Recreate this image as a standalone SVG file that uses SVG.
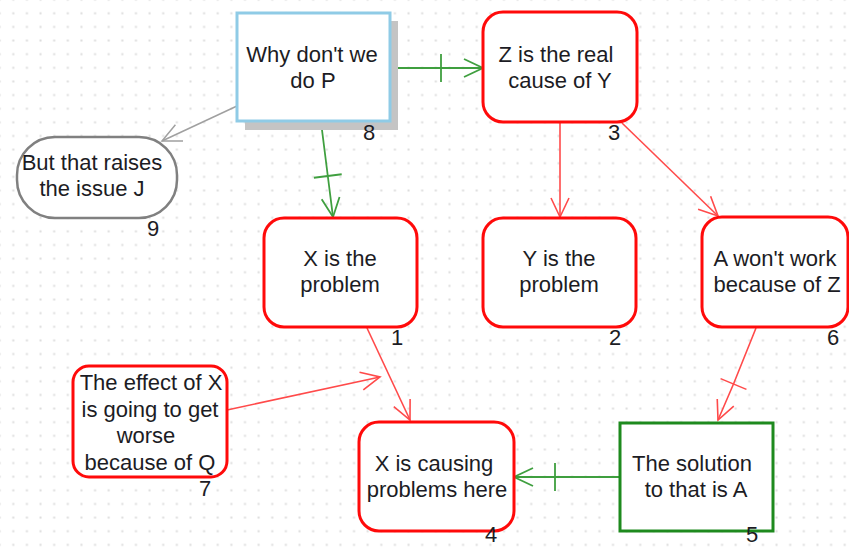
<svg xmlns="http://www.w3.org/2000/svg" width="849" height="548" viewBox="0 0 849 548">
<defs>
<pattern id="grid" patternUnits="userSpaceOnUse" x="5" y="5" width="13.63" height="13.63">
<rect x="7.3" y="7.3" width="2" height="2" fill="#dcdcdc"/>
</pattern>
<marker id="ahRed" markerUnits="userSpaceOnUse" viewBox="-22 -12 24 24" refX="0" refY="0" markerWidth="24" markerHeight="24" orient="auto" overflow="visible">
<path d="M-19,-9 L0,0 L-19,9" fill="none" stroke="#ff4a4a" stroke-width="1.6"/>
</marker>
<marker id="ahGreen" markerUnits="userSpaceOnUse" viewBox="-22 -12 24 24" refX="0" refY="0" markerWidth="24" markerHeight="24" orient="auto" overflow="visible">
<path d="M-19,-9 L0,0 L-19,9" fill="none" stroke="#3f9f3f" stroke-width="1.8"/>
</marker>
<marker id="ahGray" markerUnits="userSpaceOnUse" viewBox="-22 -12 24 24" refX="0" refY="0" markerWidth="24" markerHeight="24" orient="auto" overflow="visible">
<path d="M-19,-9 L0,0 L-19,9" fill="none" stroke="#a0a0a0" stroke-width="1.5"/>
</marker>
<marker id="barRed" markerUnits="userSpaceOnUse" viewBox="-2 -15 4 30" refX="0" refY="0" markerWidth="4" markerHeight="30" orient="auto" overflow="visible">
<path d="M0,-14 L0,14" fill="none" stroke="#ff4a4a" stroke-width="1.6"/>
</marker>
<marker id="barGreen" markerUnits="userSpaceOnUse" viewBox="-2 -15 4 30" refX="0" refY="0" markerWidth="4" markerHeight="30" orient="auto" overflow="visible">
<path d="M0,-14 L0,14" fill="none" stroke="#3f9f3f" stroke-width="1.8"/>
</marker>
</defs>
<style>
.txt{font-family:"Liberation Sans",Arial,sans-serif;font-size:22px;fill:#1c1c24;text-anchor:middle}
.num{font-family:"Liberation Sans",Arial,sans-serif;font-size:22px;fill:#1c1c24;text-anchor:middle}
.red{fill:#ffffff;stroke:#ff0a0a;stroke-width:3}
.cr{fill:none;stroke:#ff4a4a;stroke-width:1.6}
.cg{fill:none;stroke:#3f9f3f;stroke-width:1.8}
.cgray{fill:none;stroke:#a0a0a0;stroke-width:1.5}
</style>
<rect x="0" y="0" width="849" height="548" fill="#ffffff"/>
<rect x="0" y="0" width="849" height="548" fill="url(#grid)"/>

<g id="connectors">
<path class="cg" d="M390,68 L441,68 L483,68" marker-mid="url(#barGreen)" marker-end="url(#ahGreen)"/>
<path class="cg" d="M321,122 L327.8,176 L333,217" marker-mid="url(#barGreen)" marker-end="url(#ahGreen)"/>
<path class="cgray" d="M237,106 L162,141" marker-end="url(#ahGray)"/>
<path class="cr" d="M560,122 L560,217" marker-end="url(#ahRed)"/>
<path class="cr" d="M622,123 L718,216" marker-end="url(#ahRed)"/>
<path class="cr" d="M367,328 L410,420" marker-end="url(#ahRed)"/>
<path class="cr" d="M227,410 L380,377" marker-end="url(#ahRed)"/>
<path class="cr" d="M756,328 L733.5,384 L718,420" marker-mid="url(#barRed)" marker-end="url(#ahRed)"/>
<path class="cg" d="M619,477 L555,477 L514,477" marker-mid="url(#barGreen)" marker-end="url(#ahGreen)"/>
</g>

<g id="node8">
<rect x="245" y="21" width="153" height="109" fill="#c4c4c4"/>
<rect x="237" y="13" width="153" height="108" fill="#ffffff" stroke="#8fcbe6" stroke-width="3"/>
<text class="txt" x="312" y="62">Why don't we</text>
<text class="txt" x="313" y="88">do P</text>
<text class="num" x="369" y="140">8</text>
</g>

<g id="node3">
<rect class="red" x="483" y="12" width="154" height="110" rx="20"/>
<text class="txt" x="556" y="62">Z is the real</text>
<text class="txt" x="560" y="88">cause of Y</text>
<text class="num" x="614" y="140">3</text>
</g>

<g id="node9">
<rect x="17" y="137" width="160" height="81" rx="38" fill="#ffffff" stroke="#808080" stroke-width="2.5"/>
<text class="txt" x="92" y="170">But that raises</text>
<text class="txt" x="92" y="196">the issue J</text>
<text class="num" x="153" y="236">9</text>
</g>

<g id="node1">
<rect class="red" x="264" y="218" width="153" height="109" rx="20"/>
<text class="txt" x="340" y="266">X is the</text>
<text class="txt" x="340" y="292">problem</text>
<text class="num" x="397" y="345">1</text>
</g>

<g id="node2">
<rect class="red" x="483" y="218" width="153" height="109" rx="20"/>
<text class="txt" x="559" y="266">Y is the</text>
<text class="txt" x="559" y="292">problem</text>
<text class="num" x="615" y="345">2</text>
</g>

<g id="node6">
<rect class="red" x="702" y="217" width="146" height="110" rx="20"/>
<text class="txt" x="775" y="266">A won't work</text>
<text class="txt" x="777" y="292">because of Z</text>
<text class="num" x="833" y="345">6</text>
</g>

<g id="node7">
<rect class="red" x="73" y="366" width="154" height="111" rx="16"/>
<text class="txt" x="151" y="390">The effect of X</text>
<text class="txt" x="150" y="417">is going to get</text>
<text class="txt" x="146" y="443">worse</text>
<text class="txt" x="150" y="470">because of Q</text>
<text class="num" x="205" y="496">7</text>
</g>

<g id="node4">
<rect class="red" x="359" y="422" width="155" height="109" rx="20"/>
<text class="txt" x="434" y="471">X is causing</text>
<text class="txt" x="437" y="497">problems here</text>
<text class="num" x="491" y="542">4</text>
</g>

<g id="node5">
<rect x="620" y="423" width="153" height="108" fill="#ffffff" stroke="#1e8a1e" stroke-width="3"/>
<text class="txt" x="692" y="471">The solution</text>
<text class="txt" x="696" y="497">to that is A</text>
<text class="num" x="752" y="542">5</text>
</g>
</svg>
